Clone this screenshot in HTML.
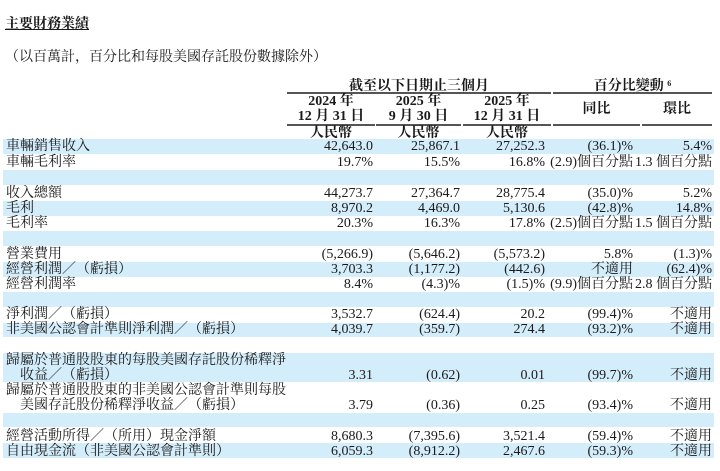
<!DOCTYPE html>
<html><head><meta charset="utf-8"><style>
body{margin:0;background:#fff;}
#w{position:relative;width:720px;height:471px;overflow:hidden;font-family:"Liberation Serif","Noto Serif CJK SC","Noto Serif CJK TC",serif;color:#1a1a1a;font-size:14px;}
.b{position:absolute;left:3px;width:711px;background:#d4edfb;}
.r{position:absolute;left:0;width:720px;height:15px;line-height:15px;white-space:nowrap;}
.r span{position:absolute;top:0;}
.l{left:6px}.i{left:20px}
.c1{right:347px}.c2{right:260px}.c3{right:175px}.c4{right:87px}.c5{right:8px}
.h{position:absolute;font-weight:bold;text-align:center;line-height:15px;white-space:nowrap;}
.ln{position:absolute;height:2px;background:#555;}
</style></head><body><div id="w">
<div style="position:absolute;left:5px;top:13px;font-weight:bold;font-size:14px;text-decoration:underline;">主要財務業績</div>
<div style="position:absolute;left:5px;top:46px;font-size:14px;">（以百萬計，百分比和每股美國存託股份數據除外）</div>

<div class="h" style="left:287px;width:264px;top:79px">截至以下日期止三個月</div>
<div class="h" style="left:553px;width:159px;top:79px">百分比變動 <span style="font-size:8px;position:relative;top:-4px">6</span></div>
<div class="ln" style="left:287px;width:264px;top:92px"></div>
<div class="ln" style="left:553px;width:159px;top:92px"></div>
<div class="h" style="left:287px;width:88px;top:94px">2024 年<br>12 月 31 日</div>
<div class="h" style="left:376px;width:85px;top:94px">2025 年<br>9 月 30 日</div>
<div class="h" style="left:463px;width:88px;top:94px">2025 年<br>12 月 31 日</div>
<div class="h" style="left:553px;width:87px;top:102px">同比</div>
<div class="h" style="left:642px;width:70px;top:102px">環比</div>
<div class="ln" style="left:287px;width:88px;top:124px"></div>
<div class="ln" style="left:376px;width:85px;top:124px"></div>
<div class="ln" style="left:463px;width:88px;top:124px"></div>
<div class="ln" style="left:553px;width:87px;top:124px"></div>
<div class="ln" style="left:642px;width:70px;top:124px"></div>
<div class="h" style="left:287px;width:88px;top:126px">人民幣</div>
<div class="h" style="left:376px;width:85px;top:126px">人民幣</div>
<div class="h" style="left:463px;width:88px;top:126px">人民幣</div>

<div class="b" style="top:139px;height:15px"></div>
<div class="b" style="top:170px;height:15px"></div>
<div class="b" style="top:201px;height:15px"></div>
<div class="b" style="top:231px;height:15px"></div>
<div class="b" style="top:262px;height:15px"></div>
<div class="b" style="top:292px;height:15px"></div>
<div class="b" style="top:323px;height:14px"></div>
<div class="b" style="top:353px;height:29px"></div>
<div class="b" style="top:413px;height:14px"></div>
<div class="b" style="top:443px;height:15px"></div>

<div class="r" style="top:139px"><span class="l">車輛銷售收入</span><span class="c1">42,643.0</span><span class="c2">25,867.1</span><span class="c3">27,252.3</span><span class="c4">(36.1)%</span><span class="c5">5.4%</span></div>
<div class="r" style="top:155px"><span class="l">車輛毛利率</span><span class="c1">19.7%</span><span class="c2">15.5%</span><span class="c3">16.8%</span><span class="c4">(2.9)個百分點</span><span class="c5">1.3 個百分點</span></div>
<div class="r" style="top:186px"><span class="l">收入總額</span><span class="c1">44,273.7</span><span class="c2">27,364.7</span><span class="c3">28,775.4</span><span class="c4">(35.0)%</span><span class="c5">5.2%</span></div>
<div class="r" style="top:201px"><span class="l">毛利</span><span class="c1">8,970.2</span><span class="c2">4,469.0</span><span class="c3">5,130.6</span><span class="c4">(42.8)%</span><span class="c5">14.8%</span></div>
<div class="r" style="top:216px"><span class="l">毛利率</span><span class="c1">20.3%</span><span class="c2">16.3%</span><span class="c3">17.8%</span><span class="c4">(2.5)個百分點</span><span class="c5">1.5 個百分點</span></div>
<div class="r" style="top:247px"><span class="l">營業費用</span><span class="c1">(5,266.9)</span><span class="c2">(5,646.2)</span><span class="c3">(5,573.2)</span><span class="c4">5.8%</span><span class="c5">(1.3)%</span></div>
<div class="r" style="top:262px"><span class="l">經營利潤／（虧損）</span><span class="c1">3,703.3</span><span class="c2">(1,177.2)</span><span class="c3">(442.6)</span><span class="c4">不適用</span><span class="c5">(62.4)%</span></div>
<div class="r" style="top:277px"><span class="l">經營利潤率</span><span class="c1">8.4%</span><span class="c2">(4.3)%</span><span class="c3">(1.5)%</span><span class="c4">(9.9)個百分點</span><span class="c5">2.8 個百分點</span></div>
<div class="r" style="top:307px"><span class="l">淨利潤／（虧損）</span><span class="c1">3,532.7</span><span class="c2">(624.4)</span><span class="c3">20.2</span><span class="c4">(99.4)%</span><span class="c5">不適用</span></div>
<div class="r" style="top:322px"><span class="l">非美國公認會計準則淨利潤／（虧損）</span><span class="c1">4,039.7</span><span class="c2">(359.7)</span><span class="c3">274.4</span><span class="c4">(93.2)%</span><span class="c5">不適用</span></div>
<div class="r" style="top:353px"><span class="l">歸屬於普通股股東的每股美國存託股份稀釋淨</span></div>
<div class="r" style="top:368px"><span class="i">收益／（虧損）</span><span class="c1">3.31</span><span class="c2">(0.62)</span><span class="c3">0.01</span><span class="c4">(99.7)%</span><span class="c5">不適用</span></div>
<div class="r" style="top:383px"><span class="l">歸屬於普通股股東的非美國公認會計準則每股</span></div>
<div class="r" style="top:398px"><span class="i">美國存託股份稀釋淨收益／（虧損）</span><span class="c1">3.79</span><span class="c2">(0.36)</span><span class="c3">0.25</span><span class="c4">(93.4)%</span><span class="c5">不適用</span></div>
<div class="r" style="top:429px"><span class="l">經營活動所得／（所用）現金淨額</span><span class="c1">8,680.3</span><span class="c2">(7,395.6)</span><span class="c3">3,521.4</span><span class="c4">(59.4)%</span><span class="c5">不適用</span></div>
<div class="r" style="top:444px"><span class="l">自由現金流（非美國公認會計準則）</span><span class="c1">6,059.3</span><span class="c2">(8,912.2)</span><span class="c3">2,467.6</span><span class="c4">(59.3)%</span><span class="c5">不適用</span></div>
</div></body></html>
